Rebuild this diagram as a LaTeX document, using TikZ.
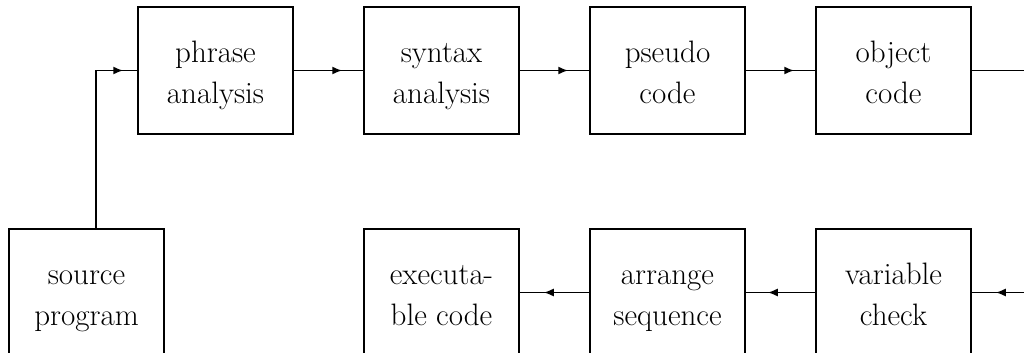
\documentclass[tikz,border=0pt]{standalone}
\usepackage{fontspec}
\usepackage{tikz}
\usetikzlibrary{arrows.meta, positioning, decorations.markings}

\begin{document}
\begin{tikzpicture}[line width=0.75pt,node distance=113pt,on grid,
	box/.style={draw,minimum width=77.5pt,minimum height=63.5pt,inner sep=0pt,align=center,font=\fontsize{15.5}{20.5}\selectfont,
		text height=36pt,text depth=3pt}]
					\useasboundingbox (0,0) rectangle (512pt,-176.5pt);
					\node[box] (phr) at (107.75pt,-35.25pt) {phrase\\analysis};
					\node[box] (syn) [right =of phr] {syntax\\analysis};
					\node[box] (pse) [right =of syn] {pseudo\\code};
					\node[box] (obj) [right =of pse] {object\\code};
					\node[box] (exe) [below =111pt of syn] {executa-\\ble code};
					\node[box] (arr) [right =of exe] {arrange\\sequence};
					\node[box] (var) [right =of arr] {variable\\check};
					\node[box] (src) [left =177.5pt of exe] {source\\program};
					\coordinate (outT) at (512pt,-35.25pt);
					\coordinate (inB) at (512pt,-146.25pt);
					
					\tikzset{mystyle/.style={postaction={decorate},decoration={markings,mark=at position -#1 with {\arrow{Latex[length=5pt,width=4pt]}}}},mystyle/.default=10.5pt}
					
					\draw[mystyle=7pt] ([xshift=4.75pt]src.north) |- (phr.west);
					\path (phr) edge [mystyle] (syn);
					\path (syn) edge [mystyle] (pse);
					\path (pse) edge [mystyle] (obj);
					\path (obj) edge (outT);
					
					\path (inB) edge [mystyle=12pt] (var);
					\path (var) edge [mystyle=11pt] (arr);
					\path (arr) edge [mystyle=12pt] (exe);
				\end{tikzpicture}
\end{document}
